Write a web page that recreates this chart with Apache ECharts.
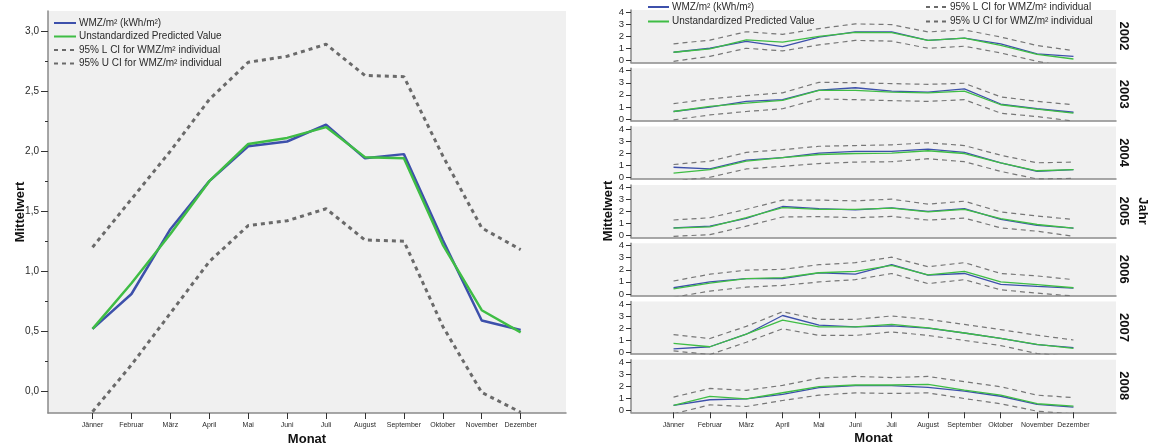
<!DOCTYPE html>
<html>
<head>
<meta charset="utf-8">
<script src="https://cdn.jsdelivr.net/npm/echarts@6/dist/echarts.min.js"></script>
<style>
  html, body { margin: 0; padding: 0; background: #fff; }
  #chart { width: 1151px; height: 447px; }
</style>
</head>
<body>
<div id="chart"></div>
<script>
const months = ['Jänner', 'Februar', 'März', 'April', 'Mai', 'Juni', 'Juli', 'August', 'September', 'Oktober', 'November', 'Dezember']
const years = ['2002', '2003', '2004', '2005', '2006', '2007', '2008']
const leftTicks = [0, 0.5, 1, 1.5, 2, 2.5, 3]
const leftMinorTicks = [0.25, 0.75, 1.25, 1.75, 2.25, 2.75]
const rightTicks = [0, 1, 2, 3, 4]

const seriesNames = ['WMZ/m² (kWh/m²)', 'Unstandardized Predicted Value', '95% L CI for WMZ/m² individual', '95% U CI for WMZ/m² individual']

// all years
const totalWmz = [0.52, 0.81, 1.35, 1.75, 2.04, 2.08, 2.22, 1.94, 1.975, 1.26, 0.59, 0.51]
const totalPred = [0.52, 0.90, 1.31, 1.75, 2.06, 2.11, 2.20, 1.95, 1.94, 1.22, 0.675, 0.49]
const totalLower = [-0.17, 0.22, 0.65, 1.08, 1.38, 1.42, 1.52, 1.26, 1.25, 0.54, -0.01, -0.175]
const totalUpper = [1.20, 1.60, 2.00, 2.43, 2.74, 2.79, 2.89, 2.63, 2.62, 1.96, 1.36, 1.18]

// per year, 2002 .. 2008
const yearWmz = [
  [0.70, 1.03, 1.60, 1.17, 1.96, 2.38, 2.38, 1.68, 1.87, 1.40, 0.56, 0.36],
  [0.62, 0.99, 1.46, 1.60, 2.39, 2.59, 2.31, 2.23, 2.50, 1.24, 0.85, 0.56],
  [0.83, 0.69, 1.43, 1.63, 2.00, 2.14, 2.14, 2.34, 2.06, 1.20, 0.49, 0.63],
  [0.64, 0.78, 1.43, 2.41, 2.24, 2.13, 2.29, 2.01, 2.24, 1.34, 0.84, 0.62],
  [0.51, 0.99, 1.27, 1.27, 1.75, 1.63, 2.42, 1.55, 1.69, 0.79, 0.62, 0.48],
  [0.28, 0.45, 1.49, 3.04, 2.24, 2.10, 2.18, 1.99, 1.59, 1.15, 0.62, 0.37],
  [0.42, 0.89, 0.97, 1.33, 1.89, 2.06, 2.06, 1.92, 1.61, 1.18, 0.51, 0.28]
]
const yearPred = [
  [0.70, 0.98, 1.73, 1.54, 2.01, 2.35, 2.32, 1.68, 1.87, 1.26, 0.53, 0.14],
  [0.62, 1.04, 1.32, 1.55, 2.37, 2.37, 2.23, 2.17, 2.31, 1.18, 0.82, 0.48],
  [0.34, 0.63, 1.34, 1.63, 1.89, 1.97, 2.00, 2.20, 1.97, 1.20, 0.54, 0.63],
  [0.62, 0.73, 1.48, 2.32, 2.18, 2.18, 2.27, 1.96, 2.18, 1.40, 0.92, 0.62],
  [0.42, 0.90, 1.27, 1.35, 1.75, 1.86, 2.37, 1.58, 1.86, 0.99, 0.76, 0.51],
  [0.73, 0.45, 1.49, 2.65, 2.10, 2.10, 2.30, 2.01, 1.59, 1.15, 0.65, 0.31],
  [0.42, 1.17, 0.97, 1.47, 1.97, 2.11, 2.11, 2.17, 1.69, 1.27, 0.56, 0.37]
]
const yearLower = [
  [-0.05, 0.36, 1.03, 0.81, 1.31, 1.68, 1.62, 1.03, 1.20, 0.64, -0.05, -0.60],
  [-0.08, 0.34, 0.62, 0.85, 1.66, 1.60, 1.52, 1.46, 1.60, 0.48, 0.20, -0.17],
  [-0.31, 0.00, 0.69, 0.91, 1.14, 1.26, 1.29, 1.54, 1.29, 0.49, -0.14, -0.09],
  [-0.06, 0.08, 0.78, 1.54, 1.57, 1.48, 1.59, 1.29, 1.45, 0.64, 0.36, -0.06],
  [-0.28, 0.23, 0.56, 0.70, 0.99, 1.18, 1.69, 0.85, 1.18, 0.34, 0.06, -0.17],
  [0.11, -0.20, 0.82, 1.94, 1.39, 1.39, 1.68, 1.39, 0.97, 0.55, -0.11, -0.40],
  [-0.28, 0.47, 0.33, 0.83, 1.27, 1.46, 1.41, 1.46, 0.99, 0.56, -0.06, -0.28]
]
const yearUpper = [
  [1.40, 1.70, 2.40, 2.18, 2.66, 3.05, 2.99, 2.38, 2.55, 1.96, 1.26, 0.84],
  [1.27, 1.66, 1.94, 2.17, 3.04, 3.01, 2.93, 2.87, 2.96, 1.83, 1.46, 1.18],
  [1.06, 1.34, 2.06, 2.29, 2.57, 2.63, 2.69, 2.86, 2.63, 1.83, 1.20, 1.26],
  [1.29, 1.48, 2.18, 2.94, 2.94, 2.88, 3.02, 2.60, 2.85, 1.96, 1.62, 1.34],
  [1.07, 1.63, 1.97, 2.03, 2.42, 2.59, 3.04, 2.25, 2.59, 1.69, 1.49, 1.18],
  [1.46, 1.13, 2.14, 3.35, 2.72, 2.72, 3.00, 2.72, 2.30, 1.87, 1.41, 1.01],
  [1.11, 1.83, 1.67, 2.08, 2.68, 2.82, 2.73, 2.82, 2.39, 1.97, 1.27, 1.07]
]

const blue = '#3d50ab'
const green = '#3fbd45'
const dashGrey = '#6a6a6a'
const axisGrey = '#8a8a8a'
const textColor = '#2a2a2a'
const font = 'Liberation Sans'
const monthIdx = months.map((m, i) => i)

const pairs = vals => vals.map((v, i) => [i, v])

function lineSeries(name, vals, xi, yi, color, width, dashed) {
  return {
    name,
    type: 'line',
    xAxisIndex: xi,
    yAxisIndex: yi,
    data: pairs(vals),
    symbol: 'none',
    silent: true,
    itemStyle: { color },
    lineStyle: { color, width, type: dashed ? dashed : 'solid' }
  }
}

const grids = []
const xAxes = []
const yAxes = []
const series = []

// left chart
grids.push({ left: 48, right: 585, top: 11, bottom: 34, outerBoundsMode: 'none', show: true, backgroundColor: '#f0f0f0', borderWidth: 0 })
xAxes.push({
  type: 'value', gridIndex: 0, min: -1.144, max: 12.165,
  name: 'Monat', nameLocation: 'middle', nameGap: 20, nameMoveOverlap: false,
  nameTextStyle: { fontFamily: font, fontWeight: 'bold', fontSize: 13, color: '#111' },
  axisLine: { show: true, onZero: false, lineStyle: { color: axisGrey, width: 1.5 } },
  axisTick: { show: true, customValues: monthIdx, length: 6, lineStyle: { color: '#333' } },
  axisLabel: { customValues: monthIdx, formatter: v => months[v], fontFamily: font, fontSize: 7, color: textColor, margin: 9 },
  splitLine: { show: false }
})
yAxes.push({
  type: 'value', gridIndex: 0, min: -0.181, max: 3.167,
  name: 'Mittelwert', nameLocation: 'middle', nameGap: 21, nameRotate: 90, nameMoveOverlap: false,
  nameTextStyle: { fontFamily: font, fontWeight: 'bold', fontSize: 13, color: '#111' },
  axisLine: { show: true, onZero: false, lineStyle: { color: axisGrey, width: 1.5 } },
  axisTick: { show: true, customValues: leftTicks, length: 7, lineStyle: { color: '#333' } },
  axisLabel: { customValues: leftTicks, formatter: v => v.toFixed(1).replace('.', ','), fontFamily: font, fontSize: 10, color: textColor, margin: 9 },
  splitLine: { show: false }
})
yAxes.push({
  type: 'value', gridIndex: 0, min: -0.181, max: 3.167, position: 'left',
  axisLine: { show: false, onZero: false },
  axisTick: { show: true, customValues: leftMinorTicks, length: 3, lineStyle: { color: '#333' } },
  axisLabel: { show: false },
  splitLine: { show: false }
})
series.push(lineSeries(seriesNames[0], totalWmz, 0, 0, blue, 2.5))
series.push(lineSeries(seriesNames[1], totalPred, 0, 0, green, 2.5))
series.push(lineSeries(seriesNames[2], totalLower, 0, 0, dashGrey, 3, [4, 4]))
series.push(lineSeries(seriesNames[3], totalUpper, 0, 0, dashGrey, 3, [4, 4]))

// right panels
const graphics = []
years.forEach((yr, i) => {
  const gi = i + 1
  const top = 10 + i * 58.3
  const last = i === years.length - 1
  grids.push({ left: 631, right: 35, top, height: 52.5, outerBoundsMode: 'none', show: true, backgroundColor: '#f0f0f0', borderWidth: 0 })
  xAxes.push({
    type: 'value', gridIndex: gi, min: -1.17, max: 12.17,
    name: last ? 'Monat' : '', nameLocation: 'middle', nameGap: 20, nameMoveOverlap: false,
    nameTextStyle: { fontFamily: font, fontWeight: 'bold', fontSize: 13, color: '#111' },
    axisLine: { show: true, onZero: false, lineStyle: { color: axisGrey, width: 1.5 } },
    axisTick: { show: last, customValues: monthIdx, length: 6, lineStyle: { color: '#333' } },
    axisLabel: { show: last, customValues: monthIdx, formatter: v => months[v], fontFamily: font, fontSize: 7, color: textColor, margin: 9 },
    splitLine: { show: false }
  })
  yAxes.push({
    type: 'value', gridIndex: gi, min: -0.15, max: 4.2,
    axisLine: { show: true, onZero: false, lineStyle: { color: axisGrey, width: 1.5 } },
    axisTick: { show: true, customValues: rightTicks, length: 5, lineStyle: { color: '#333' } },
    axisLabel: { customValues: rightTicks, fontFamily: font, fontSize: 9.5, color: textColor, margin: 7 },
    splitLine: { show: false }
  })
  const yi = yAxes.length - 1
  series.push(lineSeries(seriesNames[0], yearWmz[i], gi, yi, blue, 1.3))
  series.push(lineSeries(seriesNames[1], yearPred[i], gi, yi, green, 1.3))
  series.push(lineSeries(seriesNames[2], yearLower[i], gi, yi, '#777', 1.2, [5, 4]))
  series.push(lineSeries(seriesNames[3], yearUpper[i], gi, yi, '#777', 1.2, [5, 4]))
  graphics.push({
    type: 'text', x: 1124, y: top + 26, rotation: -Math.PI / 2,
    style: { text: yr, fontFamily: font, fontWeight: 'bold', fontSize: 13, fill: '#111', align: 'center', verticalAlign: 'middle' }
  })
})
graphics.push({
  type: 'text', x: 1143, y: 211, rotation: -Math.PI / 2,
  style: { text: 'Jahr', fontFamily: font, fontWeight: 'bold', fontSize: 13, fill: '#111', align: 'center', verticalAlign: 'middle' }
})
graphics.push({
  type: 'text', x: 608, y: 211, rotation: Math.PI / 2,
  style: { text: 'Mittelwert', fontFamily: font, fontWeight: 'bold', fontSize: 13, fill: '#111', align: 'center', verticalAlign: 'middle' }
})

const legendText = { fontFamily: font, fontSize: 10, color: textColor, padding: [0, 0, 0, -2] }
const legendBase = { orient: 'vertical', padding: 0, itemHeight: 10, selectedMode: false, textStyle: legendText, itemStyle: { opacity: 0 } }

const chart = echarts.init(document.getElementById('chart'), null, { renderer: 'canvas' })
chart.setOption({
  animation: false,
  backgroundColor: '#fff',
  grid: grids,
  xAxis: xAxes,
  yAxis: yAxes,
  series,
  graphic: graphics,
  legend: [
    Object.assign({ left: 53, top: 18, itemWidth: 22, itemGap: 3.5, data: seriesNames }, legendBase),
    Object.assign({ left: 647, top: 2, itemWidth: 21, itemGap: 4.5, data: seriesNames.slice(0, 2) }, legendBase),
    Object.assign({ left: 925, top: 2, itemWidth: 21, itemGap: 4.5, data: seriesNames.slice(2, 4) }, legendBase)
  ]
})
</script>
</body>
</html>
